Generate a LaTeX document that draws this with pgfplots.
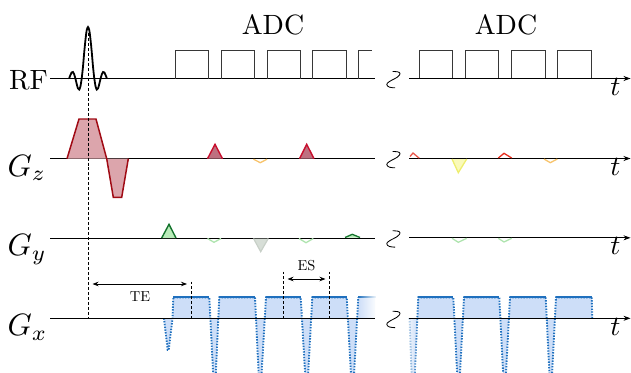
\documentclass[border=0pt]{standalone}
\usepackage{pgfplots}
\pgfplotsset{compat=1.18}
\usetikzlibrary{arrows.meta,fadings}
\tikzfading[name=fadein, left color=transparent!100, right color=transparent!0]
\tikzfading[name=fadeout, left color=transparent!0, right color=transparent!100]
\definecolor{ssred}{RGB}{160,10,20}
\definecolor{ssfill}{RGB}{220,165,172}
\definecolor{blipred}{RGB}{200,16,46}
\definecolor{blipfill}{RGB}{190,112,128}
\definecolor{dgreen}{RGB}{20,115,45}
\definecolor{lgreen}{RGB}{185,235,185}
\definecolor{pgreen}{RGB}{175,228,175}
\definecolor{ggray}{RGB}{200,208,200}
\definecolor{ggrayfill}{RGB}{215,222,215}
\definecolor{gxblue}{RGB}{31,112,190}
\definecolor{gxfill}{RGB}{205,222,248}
\definecolor{adcgray}{RGB}{55,55,55}
\definecolor{bred}{RGB}{230,45,30}
\definecolor{byellow}{RGB}{238,238,110}
\definecolor{byellowfill}{RGB}{250,250,185}
\definecolor{borange}{RGB}{245,180,70}
\begin{document}
\begin{tikzpicture}
\begin{axis}[width=631bp,height=373bp,scale only axis,hide axis,
  xmin=0,xmax=631,ymin=0,ymax=373,y dir=reverse,clip=true,
  unbounded coords=jump,
  base/.style={black,line width=0.8pt},
  arr/.style={black,line width=0.8pt,-{Stealth[length=7pt,width=5pt]}},
  brk/.style={black,line width=0.85pt,smooth,tension=0.7},
  dash/.style={black,line width=0.8pt,dash pattern=on 3pt off 2pt},
  adc/.style={adcgray,line width=0.9pt},
  gxdot/.style={gxblue,line width=1.9pt,dash pattern=on 1.4pt off 1.4pt},
  gxtop/.style={gxblue,line width=1.9pt},
]
% ---------- baselines ----------
\addplot[base] coordinates {(50,78.5)(375,78.5)};
\addplot[arr] coordinates {(409,78.5)(630.5,78.5)};
\addplot[base] coordinates {(50,158.7)(375,158.7)};
\addplot[arr] coordinates {(409,158.5)(630.5,158.5)};
\addplot[base] coordinates {(50,238)(375,238)};
\addplot[arr] coordinates {(409,237.8)(630.5,237.8)};
% ---------- break symbols ----------
\addplot[brk] coordinates {(392.5,71.5)(397.5,71.8)(400,73.5)(397.5,77)(389.5,81.5)(386.8,84.5)(389.5,87.2)(395,87.8)};
\addplot[brk] coordinates {(392.5,151.5)(397.5,151.8)(400,153.5)(397.5,157)(389.5,161.5)(386.8,164.5)(389.5,167.2)(395,167.8)};
\addplot[brk] coordinates {(392.5,230.8)(397.5,231.1)(400,232.8)(397.5,236.3)(389.5,240.8)(386.8,243.8)(389.5,246.5)(395,247.1)};
\addplot[brk] coordinates {(392.5,311.3)(397.5,311.6)(400,313.3)(397.5,316.8)(389.5,321.3)(386.8,324.3)(389.5,327)(395,327.6)};
% ---------- RF sinc ----------
\addplot[black,line width=1.8pt,smooth] coordinates {
(69.1,78.5)(70.4,75.1)(71.6,72.5)(72.9,72.0)(74.1,74.1)(75.4,78.5)
(76.7,83.9)(77.9,88.2)(79.2,89.6)(80.4,86.5)(81.7,78.5)(83.0,66.5)
(84.2,52.5)(85.5,39.5)(86.7,30.3)(88,27)(89.3,30.3)(90.5,39.5)
(91.8,52.5)(93.0,66.5)(94.3,78.5)(95.6,86.5)(96.8,89.6)(98.1,88.2)
(99.3,83.9)(100.6,78.5)(101.9,74.1)(103.1,72.0)(104.4,72.5)(105.6,75.1)(106.9,78.5)};
% ---------- ADC ----------
\addplot[adc] coordinates {(175,78.5)(175,50)(208,50)(208,78.5)};
\addplot[adc] coordinates {(221,78.5)(221,50)(254,50)(254,78.5)};
\addplot[adc] coordinates {(267,78.5)(267,50)(300,50)(300,78.5)};
\addplot[adc] coordinates {(312.5,78.5)(312.5,50)(346.5,50)(346.5,78.5)};
\addplot[adc] coordinates {(358.5,78.5)(358.5,50)(372,50)};
\addplot[adc] coordinates {(419,78.3)(419,50.5)(452,50.5)(452,78.3)};
\addplot[adc] coordinates {(465,78.3)(465,50.5)(498,50.5)(498,78.3)};
\addplot[adc] coordinates {(511,78.3)(511,50.5)(545,50.5)(545,78.3)};
\addplot[adc] coordinates {(557,78.3)(557,50.5)(591,50.5)(591,78.3)};
% ---------- Gz ----------
\addplot[ssred,line width=1.5pt,fill=ssfill] coordinates {(67,158.7)(79,119)(96,119)(106.7,158.7)(113.3,197.3)(121.7,197.3)(128.3,158.7)};
\addplot[blipred,line width=1.4pt,fill=blipfill] coordinates {(207.5,158.7)(215,144.3)(222.5,158.7)};
\addplot[blipred,line width=1.4pt,fill=blipfill] coordinates {(299.5,158.7)(306.7,144.3)(314,158.7)};
\addplot[borange,line width=1.3pt,opacity=0.8] coordinates {(253.5,159.2)(260.3,162.7)(267,159.2)};
\addplot[bred,line width=1.3pt,opacity=0.8] coordinates {(410,156.5)(413,153)(419.3,158.3)};
\addplot[byellow,line width=1.3pt,fill=byellowfill] coordinates {(452,159)(458.3,172.7)(466.7,159)};
\addplot[bred,line width=1.3pt] coordinates {(498.3,158)(504,153.3)(511.7,158)};
\addplot[borange,line width=1.3pt,opacity=0.8] coordinates {(544,159)(550.3,162.7)(557.3,159)};
% ---------- Gy ----------
\addplot[dgreen,line width=1.4pt,fill=lgreen] coordinates {(161.7,238)(169,224.3)(176,238)};
\addplot[pgreen,line width=1.3pt] coordinates {(207.5,238.5)(214,242.3)(221,238.5)};
\addplot[ggray,line width=1.2pt,fill=ggrayfill] coordinates {(253.5,238.5)(260.7,251.7)(268.3,238.5)};
\addplot[pgreen,line width=1.3pt] coordinates {(299,238.5)(306,242.7)(313.3,238.5)};
\addplot[dgreen,line width=1.3pt,fill=lgreen] coordinates {(345,237.5)(352.3,234.3)(360,237.5)};
\addplot[pgreen,line width=1.3pt] coordinates {(452,238.3)(458.3,242.3)(466.7,238.3)};
\addplot[pgreen,line width=1.3pt] coordinates {(498.3,238.3)(504,242)(511.7,238.3)};
% ---------- Gx ----------
\addplot[draw=none,fill=gxfill] coordinates {(164,318.3)(167.7,350)(168.7,350)(172.5,318.3)(173.3,297.3)(209.3,297.3)(213.1,373)(215.8,373)(219.3,297.3)(255,297.3)(258.6,373)(261.6,373)(266,297.3)(300.7,297.3)(305.1,373)(308.2,373)(312.3,297.3)(346.7,297.3)(350.9,373)(354.1,373)(358.3,297.3)(375,297.3)(375,318.3)};
\addplot[gxdot] coordinates {(164,318.3)(167.7,350)(168.7,350)(172.5,318.3)(173.3,297.3)(209.3,297.3)(213.1,373)(213.1,nan)(215.8,373)(219.3,297.3)(255,297.3)(258.6,373)(258.6,nan)(261.6,373)(266,297.3)(300.7,297.3)(305.1,373)(305.1,nan)(308.2,373)(312.3,297.3)(346.7,297.3)(350.9,373)(350.9,nan)(354.1,373)(358.3,297.3)};
\addplot[gxtop] coordinates {(173.3,297.3)(209.3,297.3)};
\addplot[gxtop] coordinates {(219.3,297.3)(255,297.3)};
\addplot[gxtop] coordinates {(266,297.3)(300.7,297.3)};
\addplot[gxtop] coordinates {(312.3,297.3)(346.7,297.3)};
\addplot[gxtop] coordinates {(358.3,297.3)(376,297.3)};
\addplot[draw=none,fill=white,path fading=fadein] coordinates {(358,292)(377,292)(377,317.5)(358,317.5)};
\addplot[draw=none,fill=gxfill] coordinates {(409.5,318.3)(411.5,373)(414.8,373)(418.3,297.3)(453.3,297.3)(457.1,373)(460,373)(464,297.3)(499.3,297.3)(503.1,373)(506,373)(510,297.3)(545.7,297.3)(549.4,373)(552.1,373)(556,297.3)(591.7,297.3)(592.3,318.3)};
\addplot[gxdot] coordinates {(409.5,318.3)(411.5,373)(411.5,nan)(414.8,373)(418.3,297.3)(453.3,297.3)(457.1,373)(457.1,nan)(460,373)(464,297.3)(499.3,297.3)(503.1,373)(503.1,nan)(506,373)(510,297.3)(545.7,297.3)(549.4,373)(549.4,nan)(552.1,373)(556,297.3)(591.7,297.3)(592.3,318.3)};
\addplot[gxtop] coordinates {(418.3,297.3)(453.3,297.3)};
\addplot[gxtop] coordinates {(464,297.3)(499.3,297.3)};
\addplot[gxtop] coordinates {(510,297.3)(545.7,297.3)};
\addplot[gxtop] coordinates {(556,297.3)(591.7,297.3)};
\addplot[draw=none,fill=white,path fading=fadeout] coordinates {(404,319)(418,319)(418,373)(404,373)};
\addplot[base] coordinates {(50,318.3)(375,318.3)};
\addplot[arr] coordinates {(409,318.3)(630.5,318.3)};
% ---------- timing annotations ----------
\addplot[dash] coordinates {(88,33)(88,318.3)};
\addplot[dash] coordinates {(191,281.5)(191,318.3)};
\addplot[dash] coordinates {(283.3,271.5)(283.3,318.3)};
\addplot[dash] coordinates {(329.5,271.5)(329.5,318.3)};
\addplot[black,line width=0.8pt,{Stealth[length=6pt,width=4.5pt]}-{Stealth[length=6pt,width=4.5pt]}] coordinates {(92.5,284)(187,284)};
\addplot[black,line width=0.8pt,{Stealth[length=6pt,width=4.5pt]}-{Stealth[length=6pt,width=4.5pt]}] coordinates {(287.5,279)(325.5,279)};
% ---------- labels ----------
\node[anchor=base west,scale=2.8,inner sep=0pt] at (axis cs:8.5,89.3) {RF};
\node[anchor=base west,scale=3.1,inner sep=0pt] at (axis cs:7,176) {$G_z$};
\node[anchor=base west,scale=3.1,inner sep=0pt] at (axis cs:7,255.5) {$G_y$};
\node[anchor=base west,scale=3.1,inner sep=0pt] at (axis cs:7,335.5) {$G_x$};
\node[anchor=base,scale=2.8,inner sep=0pt] at (axis cs:273,34) {ADC};
\node[anchor=base,scale=2.8,inner sep=0pt] at (axis cs:506,34) {ADC};
\node[anchor=base,scale=1.45,inner sep=0pt] at (axis cs:140,301.5) {TE};
\node[anchor=base,scale=1.45,inner sep=0pt] at (axis cs:306.5,270) {ES};
\node[anchor=base east,scale=2.8,inner sep=0pt] at (axis cs:621,95) {$t$};
\node[anchor=base east,scale=2.8,inner sep=0pt] at (axis cs:621,175) {$t$};
\node[anchor=base east,scale=2.8,inner sep=0pt] at (axis cs:621,254.5) {$t$};
\node[anchor=base east,scale=2.8,inner sep=0pt] at (axis cs:621,335) {$t$};
\end{axis}
\pgfresetboundingbox
\useasboundingbox (current axis.south west) rectangle (current axis.north east);
\end{tikzpicture}
\end{document}
